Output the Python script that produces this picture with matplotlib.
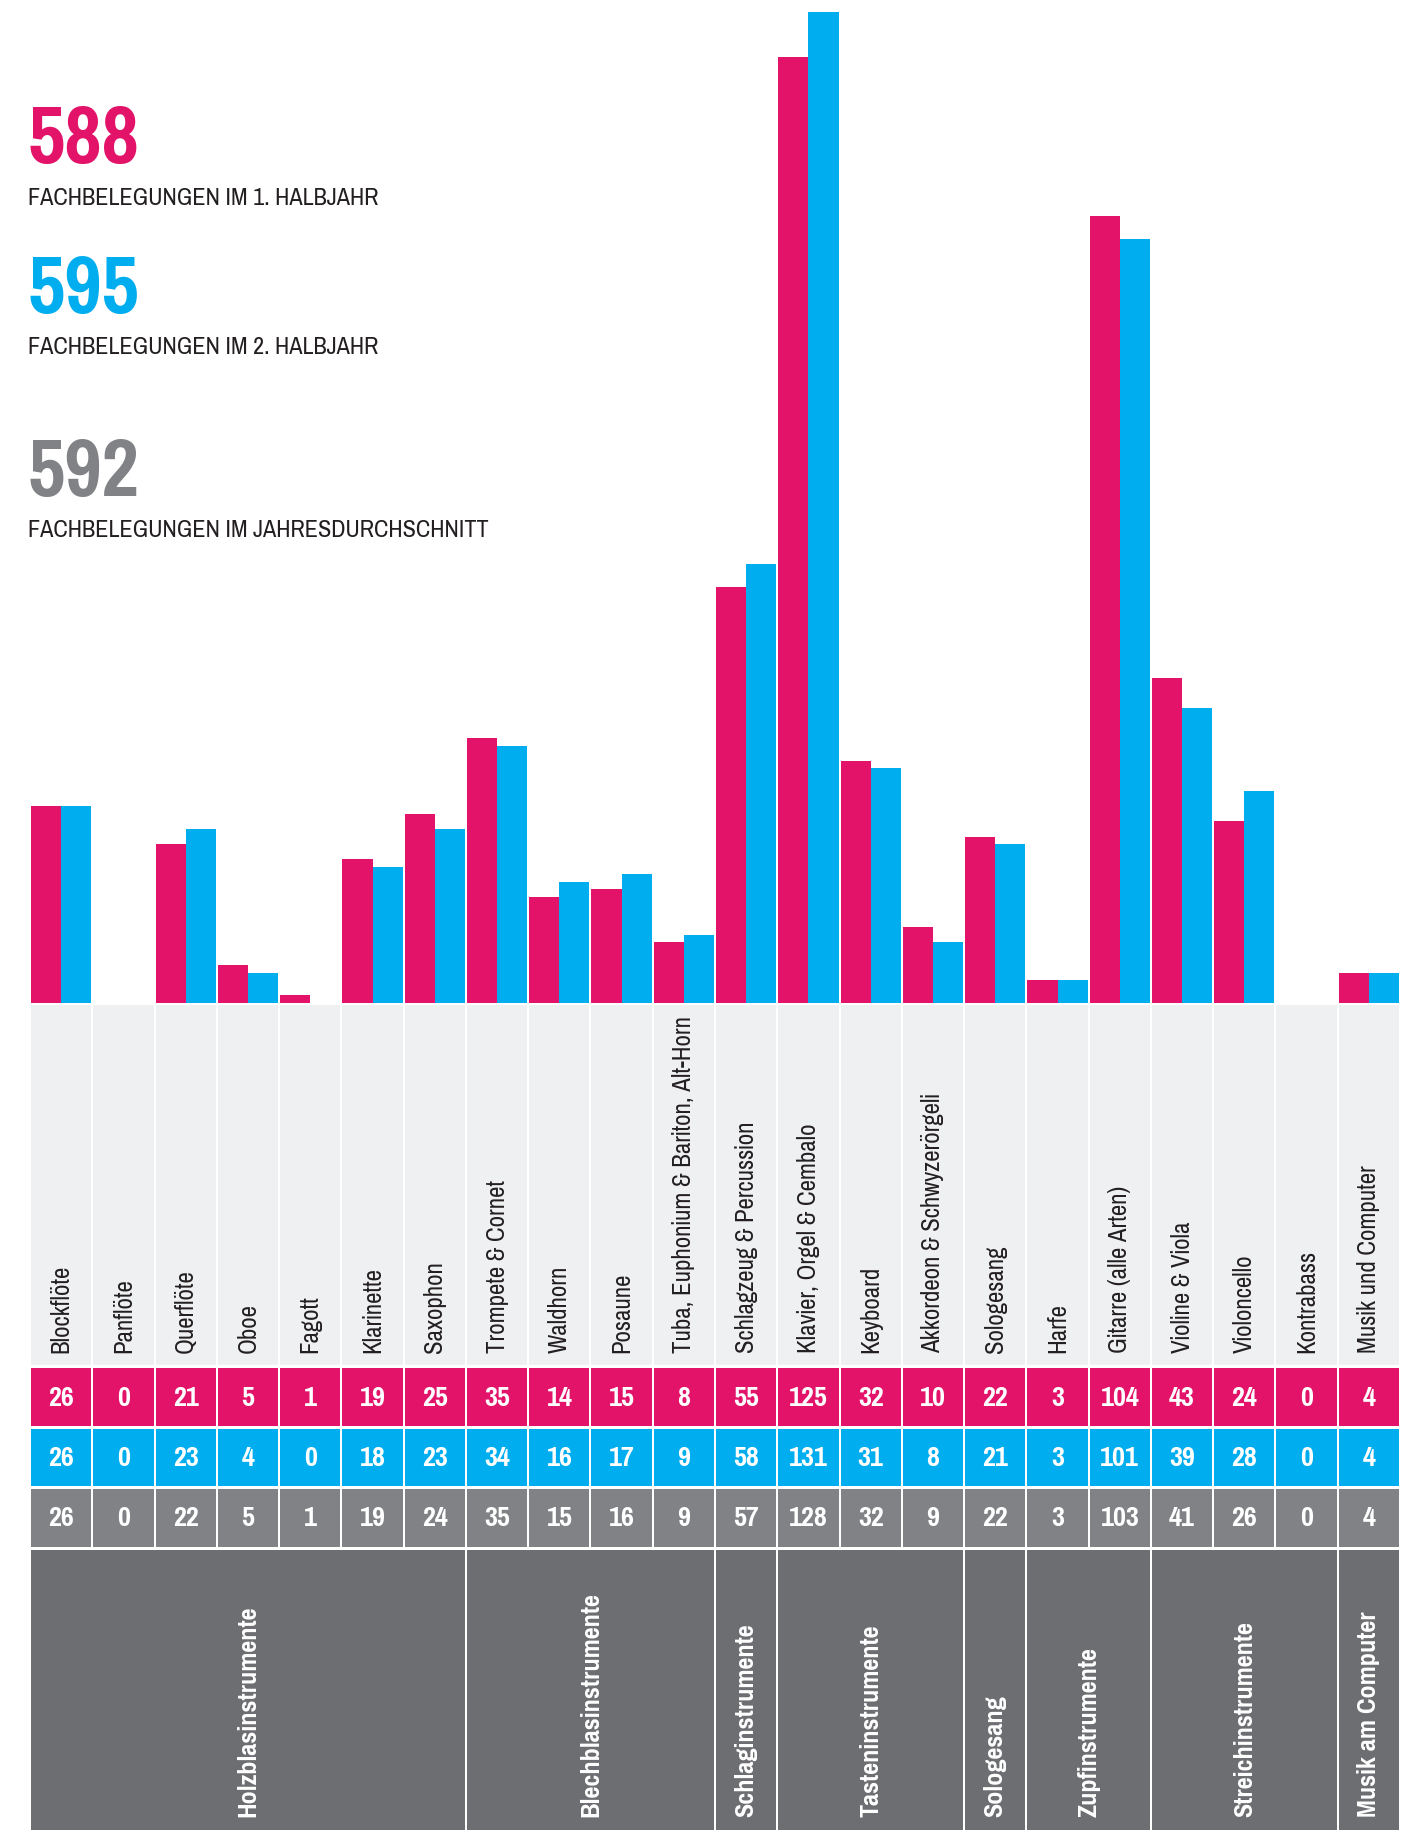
import matplotlib
matplotlib.use('Agg')
import matplotlib.pyplot as plt
from matplotlib import font_manager

# Colours
PINK = '#E4136A'
BLUE = '#00AEEF'
GREY = '#808285'
DARK = '#6D6E72'
LIGHT = '#EFF0F2'
TEXT = '#231F20'

categories = ["Blockflöte", "Panflöte", "Querflöte", "Oboe", "Fagott", "Klarinette",
              "Saxophon", "Trompete & Cornet", "Waldhorn", "Posaune",
              "Tuba, Euphonium & Bariton, Alt-Horn", "Schlagzeug & Percussion",
              "Klavier, Orgel & Cembalo", "Keyboard", "Akkordeon & Schwyzerörgeli",
              "Sologesang", "Harfe", "Gitarre (alle Arten)", "Violine & Viola",
              "Violoncello", "Kontrabass", "Musik und Computer"]
halbjahr_1 = [26, 0, 21, 5, 1, 19, 25, 35, 14, 15, 8, 55, 125, 32, 10, 22, 3, 104, 43, 24, 0, 4]
halbjahr_2 = [26, 0, 23, 4, 0, 18, 23, 34, 16, 17, 9, 58, 131, 31, 8, 21, 3, 101, 39, 28, 0, 4]
durchschnitt = [26, 0, 22, 5, 1, 19, 24, 35, 15, 16, 9, 57, 128, 32, 9, 22, 3, 103, 41, 26, 0, 4]

groups = ["Holzblasinstrumente", "Blechblasinstrumente", "Schlaginstrumente",
          "Tasteninstrumente", "Sologesang", "Zupfinstrumente",
          "Streichinstrumente", "Musik am Computer"]
group_sizes = [7, 4, 1, 3, 1, 2, 3, 1]

totals = ["588", "595", "592"]
total_labels = ["FACHBELEGUNGEN IM 1. HALBJAHR", "FACHBELEGUNGEN IM 2. HALBJAHR",
                "FACHBELEGUNGEN IM JAHRESDURCHSCHNITT"]


def as_weight(w):
    if isinstance(w, int):
        return w
    return font_manager.weight_dict.get(str(w), 400)


def pick_font():
    # look for a narrow / condensed face that has both regular and bold
    weights = {}
    for f in font_manager.fontManager.ttflist:
        if 'Narrow' in f.name or 'Condensed' in f.name:
            weights.setdefault(f.name, set()).add(as_weight(f.weight))
    if weights:
        best = sorted(weights, key=lambda k: (max(weights[k]) >= 600,
                                              min(weights[k]) <= 400,
                                              -len(k)))[-1]
        return best, 'normal'
    for fam in ['Roboto', 'Noto Sans', 'Open Sans', 'DejaVu Sans', 'Liberation Sans']:
        for f in font_manager.fontManager.ttflist:
            if f.name == fam and 'condensed' in str(f.stretch):
                return fam, 'condensed'
    return 'Liberation Sans', 'normal'


FAMILY, STRETCH = pick_font()
FONT = [FAMILY, 'DejaVu Sans']

W, H = 1413, 1830
fig = plt.figure(figsize=(W / 100, H / 100), dpi=100)
renderer = fig.canvas.get_renderer()


def fit(txt, target):
    # scale the font so the text is as long as in the original
    bb = txt.get_window_extent(renderer)
    length = max(bb.width, bb.height)
    return txt.get_fontsize() * target / length


n = len(categories)
gap = 2 / (1370 / n)          # 2 px white gap in column units
half = 0.5 - gap / 2
xs = list(range(n))

# --- bars ---
ax = fig.add_axes([30 / W, 1 - 1003 / H, 1370 / W, (1003 - 11.7) / H])
ax.bar([x - half for x in xs], halbjahr_1, width=half, align='edge', color=PINK)
ax.bar(xs, halbjahr_2, width=half, align='edge', color=BLUE)
ax.set_xlim(-0.5, n - 0.5)
ax.set_ylim(0, max(halbjahr_2))
ax.axis('off')

# --- table below (y in pixels from top) ---
tax = fig.add_axes([30 / W, 0, 1370 / W, (H - 1005) / H])
tax.set_xlim(-0.5, n - 0.5)
tax.set_ylim(H, 1005)
tax.axis('off')

kw = dict(family=FONT, fontstretch=STRETCH)

# the original face is narrower, so go a bit over the measured widths
probe = tax.text(0, 0, categories[10], fontsize=15, rotation=90, **kw)
lab_size = fit(probe, 338)
probe.remove()
probe = tax.text(0, 0, "104", fontsize=18, weight='bold', **kw)
num_size = fit(probe, 35) * 1.1
probe.remove()
probe = tax.text(0, 0, groups[0], fontsize=17, weight='bold', rotation=90, **kw)
grp_size = fit(probe, 202) * 1.05
probe.remove()

cw = 1 - gap
tax.bar(xs, [1365 - 1005] * n, bottom=1005, width=cw, color=LIGHT)
for x, lab in zip(xs, categories):
    tax.text(x, 1353, lab, rotation=90, ha='center', va='bottom',
             fontsize=lab_size, color=TEXT, **kw)

rows = [(halbjahr_1, PINK, 1368, 1426), (halbjahr_2, BLUE, 1429, 1486),
        (durchschnitt, GREY, 1489, 1547)]
for vals, col, y0, y1 in rows:
    tax.bar(xs, [y1 - y0] * n, bottom=y0, width=cw, color=col)
    for x, v in zip(xs, vals):
        tax.text(x, (y0 + y1) / 2 + 1, str(v), ha='center', va='center',
                 fontsize=num_size, color='white', weight='bold', **kw)

start = 0
for name, size in zip(groups, group_sizes):
    left = start - 0.5 + gap / 2
    right = start + size - 0.5 - gap / 2
    tax.bar(left, H - 1550, bottom=1550, width=right - left, align='edge', color=DARK)
    tax.text((left + right) / 2, 1817, name, rotation=90, ha='center', va='bottom',
             fontsize=grp_size, color='white', weight='bold', **kw)
    start += size

# --- headline figures ---
probe = fig.text(0, 0, totals[0], fontsize=58, weight='bold', **kw)
big_size = min(64, fit(probe, 105) * 1.1)
probe.remove()
probe = fig.text(0, 0, total_labels[0], fontsize=18, **kw)
sub_size = fit(probe, 320) * 1.1
probe.remove()

for num, lab, col, yb, ys in zip(totals, total_labels, [PINK, BLUE, GREY],
                                 [163, 313, 496], [205, 354, 537]):
    fig.text(27 / W, 1 - yb / H, num, fontsize=big_size, weight='bold', color=col,
             va='baseline', **kw)
    fig.text(28 / W, 1 - ys / H, lab, fontsize=sub_size, color=TEXT,
             va='baseline', **kw)

fig.savefig('out.png', dpi=100, facecolor='white')
